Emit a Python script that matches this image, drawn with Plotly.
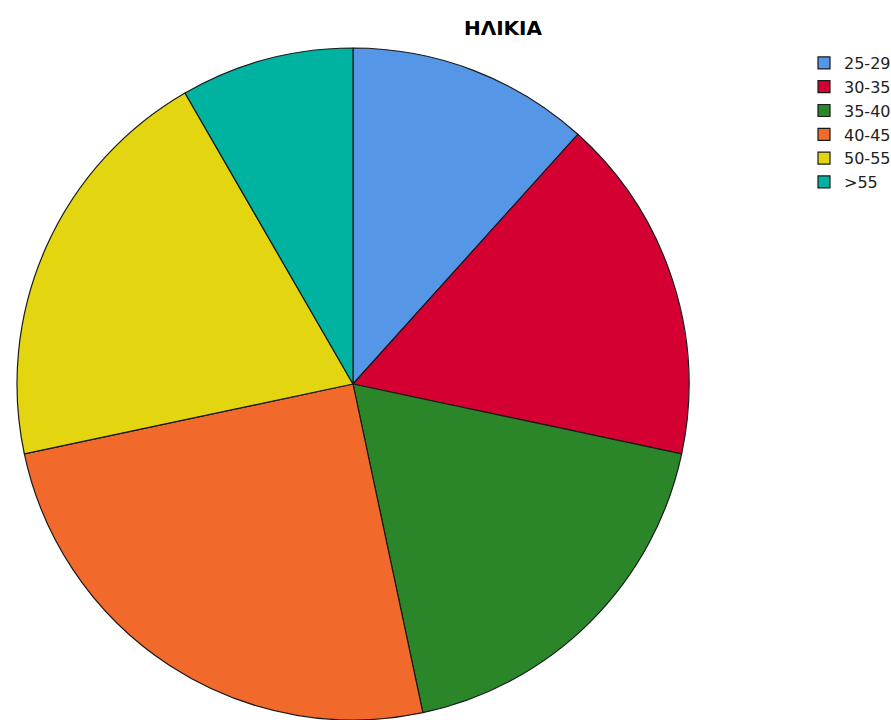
import plotly.graph_objects as go

# Age groups and respondent counts
age_groups = ["25-29", "30-35", "35-40", "40-45", "50-55", ">55"]
counts = [7, 10, 11, 15, 12, 5]
slice_colors = ["#5596E6", "#D50032", "#2A8629", "#F2692C", "#E3D611", "#00B3A0"]

W, H = 891, 720

fig = go.Figure(
    go.Pie(
        labels=age_groups,
        values=counts,
        sort=False,
        direction="clockwise",
        rotation=0,
        textinfo="none",
        hoverinfo="label+value+percent",
        marker=dict(colors=slice_colors, line=dict(color="#1a1a1a", width=1.2)),
        domain=dict(x=[17 / W, 689 / W], y=[0, 672 / H]),
    )
)

fig.update_layout(
    width=W,
    height=H,
    margin=dict(l=0, r=0, t=0, b=0, autoexpand=False),
    paper_bgcolor="white",
    plot_bgcolor="white",
    title=dict(
        text="<b>ΗΛΙΚΙΑ</b>",
        x=503 / W,
        xanchor="center",
        y=1 - 28 / H,
        yanchor="middle",
        font=dict(family="DejaVu Sans", size=20, color="black"),
    ),
    legend=dict(
        x=804 / W,
        xanchor="left",
        y=1 - 46 / H,
        yanchor="top",
        font=dict(family="DejaVu Sans", size=16, color="#222222"),
        bgcolor="rgba(0,0,0,0)",
        itemwidth=30,
    ),
)

fig.write_html("out.html")
